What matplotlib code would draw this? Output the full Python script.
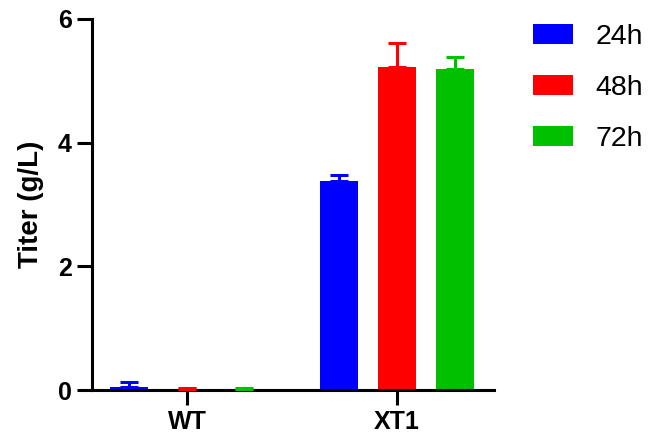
import numpy as np
import matplotlib
matplotlib.use("Agg")
import matplotlib.pyplot as plt

plt.rcParams['font.family'] = ['Liberation Sans', 'DejaVu Sans']

# data
groups = ['WT', 'XT1']
times = ['24h', '48h', '72h']
colors = ['#0000ff', '#ff0000', '#00c000']
titer = {
    '24h': [0.05, 3.38],
    '48h': [0.01, 5.23],
    '72h': [0.01, 5.19],
}
err = {
    '24h': [0.08, 0.09],
    '48h': [0.025, 0.38],
    '72h': [0.025, 0.20],
}

fig = plt.figure(figsize=(6.51, 4.43), dpi=100)
ax = fig.add_axes([92/651, 53/443, 402/651, 371/443])

x = np.arange(len(groups))
w = 0.181
off = 0.274
handles = []
for i, t in enumerate(times):
    xs = x + (i - 1) * off
    b = ax.bar(xs, titer[t], width=w, color=colors[i], linewidth=0, zorder=1, label=t)
    handles.append(b)
    ax.errorbar(xs, titer[t], yerr=[np.zeros(len(groups)), err[t]], fmt='none',
                ecolor=colors[i], elinewidth=2.2, capsize=6.8, capthick=2.2, zorder=3)

ax.set_xlim(-0.452, 1.462)
ax.set_ylim(0, 6)
ax.set_yticks([0, 2, 4, 6])
ax.set_xticks(x)
ax.set_xticklabels(groups)
ax.set_ylabel('Titer (g/L)', fontsize=20, fontweight='bold', labelpad=10)

for s in ['top', 'right']:
    ax.spines[s].set_visible(False)
for s in ['left', 'bottom']:
    ax.spines[s].set_linewidth(2.2)
ax.tick_params(axis='both', width=2.2, length=11, labelsize=18, direction='out')
for lab in ax.get_xticklabels() + ax.get_yticklabels():
    lab.set_fontweight('bold')

fig.legend(handles=handles, loc='upper left', bbox_to_anchor=(533/651, 1 - 24/443),
           frameon=False, fontsize=20.5, handlelength=1.42, handleheight=0.68,
           handletextpad=0.77, labelspacing=0.88, borderpad=0, borderaxespad=0)

fig.savefig('out.png', dpi=100)
